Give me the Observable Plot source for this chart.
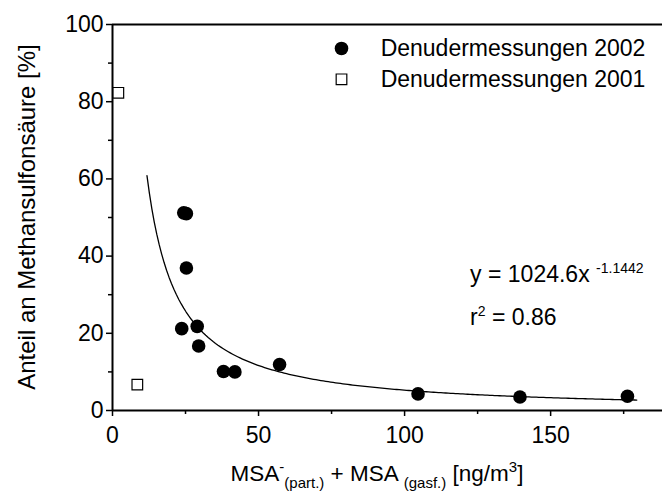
<!DOCTYPE html>
<html>
<head>
<meta charset="utf-8">
<script src="https://cdn.jsdelivr.net/npm/d3@7"></script>
<script src="https://cdn.jsdelivr.net/npm/@observablehq/plot@0.6"></script>
<style>
  html, body { margin: 0; padding: 0; background: #fff; }
  svg { display: block; }
</style>
</head>
<body>
<div id="chart"></div>
<script>
// ---- data ----
const x2002 = [24.4, 25.3, 25.3, 23.7, 29.0, 29.5, 38.0, 41.9, 57.2, 104.6, 139.5, 176.3];
const y2002 = [51.2, 51.0, 36.9, 21.2, 21.8, 16.7, 10.1, 10.0, 11.9, 4.3, 3.5, 3.7];
const x2001 = [2.0, 8.5];
const y2001 = [82.3, 6.7];

// power-law fit shown on the chart: y = a * x^b
const fitA = 1024.6;
const fitB = -1.1442;
const fitXStart = 11.8;
const fitXEnd = 179.5;
const fitR2 = 0.86;

const xTicks = [0, 50, 100, 150];
const xMinorTicks = [25, 75, 125, 175];
const yTicks = [0, 20, 40, 60, 80, 100];
const yMinorTicks = [10, 30, 50, 70, 90];

const legendLabels = ["Denudermessungen 2002", "Denudermessungen 2001"];

// ---- build tables ----
const d2002 = x2002.map((x, i) => ({x, y: y2002[i]}));
const d2001 = x2001.map((x, i) => ({x, y: y2001[i]}));
const fitCurve = d3.range(0, 201).map(i => {
  const x = fitXStart + (fitXEnd - fitXStart) * i / 200;
  return {x, y: fitA * Math.pow(x, fitB)};
});

const FONT = "'Liberation Sans', Arial, Helvetica, sans-serif";

const plot = Plot.plot({
  width: 662,
  height: 492,
  marginLeft: 112,
  marginRight: 0,
  marginTop: 24,
  marginBottom: 82,
  style: {fontFamily: FONT, fontSize: "23px", color: "black", background: "white"},
  x: {domain: [0, 188.3]},
  y: {domain: [0, 100]},
  marks: [
    Plot.axisX({ticks: xTicks, tickSize: 6, tickPadding: 10, label: null, strokeWidth: 1.5, tickFormat: d => String(d)}),
    Plot.axisX({ticks: xMinorTicks, tickSize: 4, tickFormat: () => "", label: null, strokeWidth: 1.5}),
    Plot.axisY({ticks: yTicks, tickSize: 6, tickPadding: 3, label: null, strokeWidth: 1.5, tickFormat: d => String(d)}),
    Plot.axisY({ticks: yMinorTicks, tickSize: 4, tickFormat: () => "", label: null, strokeWidth: 1.5}),
    Plot.ruleY([0], {stroke: "black", strokeWidth: 2}),
    Plot.ruleY([100], {stroke: "black", strokeWidth: 2}),
    Plot.ruleX([0], {stroke: "black", strokeWidth: 2}),
    Plot.line(fitCurve, {x: "x", y: "y", stroke: "black", strokeWidth: 1.3}),
    Plot.dot(d2002, {x: "x", y: "y", r: 6.8, fill: "black", stroke: "none"}),
    Plot.dot(d2001, {x: "x", y: "y", symbol: "square", r: 6, fill: "white", stroke: "black", strokeWidth: 1.2}),
    // legend
    Plot.dot([{x: 78.4, y: 93.8}], {x: "x", y: "y", r: 6.8, fill: "black", stroke: "none"}),
    Plot.dot([{x: 78.4, y: 85.8}], {x: "x", y: "y", symbol: "square", r: 6, fill: "white", stroke: "black", strokeWidth: 1.2}),
    Plot.text([{x: 91.8, y: 93.8, t: legendLabels[0]}, {x: 91.8, y: 85.8, t: legendLabels[1]}],
      {x: "x", y: "y", text: "t", textAnchor: "start", lineAnchor: "middle", fontSize: 23, fill: "black"})
  ]
});

document.getElementById("chart").appendChild(plot);

// ---- rich text (sub/superscripts) ----
const svg = d3.select(plot);
const sx = plot.scale("x");
const sy = plot.scale("y");

function rich(x, y, parts, opts = {}) {
  const t = svg.append("text")
    .attr("x", x).attr("y", y)
    .attr("font-family", FONT)
    .attr("font-size", opts.size || 22)
    .attr("fill", "black")
    .attr("text-anchor", opts.anchor || "start");
  if (opts.rotate) t.attr("transform", `rotate(${opts.rotate} ${x} ${y})`);
  let shift = 0;
  for (const p of parts) {
    const target = p.sup ? -9 : p.sub ? 7 : 0;
    const ts = t.append("tspan").attr("dy", target - shift).text(p.t);
    if (p.sup || p.sub) ts.attr("font-size", p.size || 15);
    shift = target;
  }
  return t;
}

// equation
rich(sx.apply(122.6), sy.apply(33.2), [
  {t: `y = ${fitA}x `}, {t: String(fitB), sup: true, size: 14}
], {size: 23});
rich(sx.apply(122.6), sy.apply(22.0), [
  {t: "r"}, {t: "2", sup: true, size: 14}, {t: ` = ${fitR2}`}
], {size: 23});

// x axis title
rich(377, 481, [
  {t: "MSA"}, {t: "-", sup: true}, {t: "(part.)", sub: true},
  {t: " + MSA "}, {t: "(gasf.)", sub: true}, {t: " [ng/m"}, {t: "3", sup: true}, {t: "]"}
], {anchor: "middle", size: 22.5});

// y axis title
rich(35, 217, [{t: "Anteil an Methansulfonsäure [%]"}], {anchor: "middle", rotate: -90, size: 24});
</script>
</body>
</html>
